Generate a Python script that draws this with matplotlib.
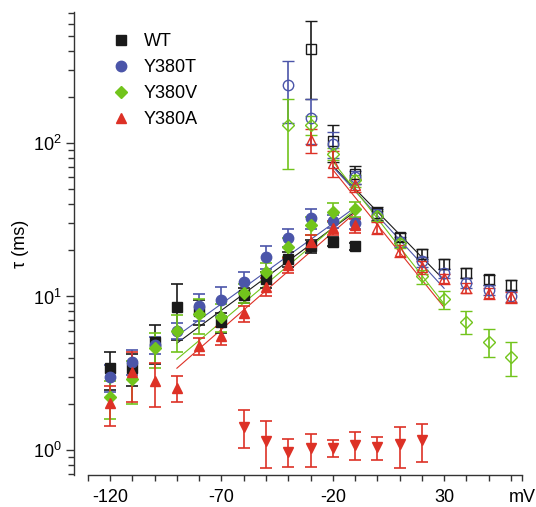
import matplotlib
matplotlib.use('Agg')
import matplotlib.pyplot as plt
from matplotlib.lines import Line2D

plt.rcParams['font.family'] = ['Liberation Sans', 'DejaVu Sans']
plt.rcParams['mathtext.fontset'] = 'custom'
plt.rcParams['mathtext.rm'] = 'Liberation Sans'
plt.rcParams['mathtext.it'] = 'Liberation Sans:italic'
plt.rcParams['mathtext.bf'] = 'Liberation Sans:bold'

# ---------------- data ----------------
series_names = ['WT', 'Y380T', 'Y380V', 'Y380A']

# activation (filled symbols)
v_fill = [-120, -110, -100, -90, -80, -70, -60, -50, -40, -30, -20, -10]
wt_fill = [3.42, 3.42, 5.08, 8.6, 8.0, 6.8, 10.2, 12.9, 17.5, 21.3, 22.8, 21.2]
wt_fill_err = [0.95, 0.8, 1.45, 3.4, 1.5, 1.0, 1.2, 1.5, 2.0, 2.0, 1.5, 1.2]
t_fill = [2.98, 3.76, 4.85, 6.0, 8.66, 9.5, 12.5, 18.2, 24.2, 32.3, 31.0, 30.0]
t_fill_err = [0.6, 0.7, 0.6, 0.75, 1.7, 2.0, 2.0, 3.1, 3.2, 4.7, 3.0, 2.5]
vv_fill = [2.2, 2.9, 4.6, 5.96, 7.7, 7.4, 10.6, 14.5, 21.0, 29.0, 35.5, 37.0]
vv_fill_err = [0.6, 0.92, 1.2, 1.6, 2.0, 1.5, 1.5, 2.0, 3.0, 4.0, 5.0, 4.0]
a_fill = [2.03, 3.2, 2.8, 2.55, 4.76, 5.55, 7.77, 11.6, 16.0, 22.5, 28.0, 29.0]
a_fill_err = [0.6, 1.15, 0.9, 0.5, 0.6, 0.75, 0.9, 1.5, 1.8, 2.5, 3.0, 3.0]

# deactivation (open symbols)
v_open_wt = [-30, -20, -10, 0, 10, 20, 30, 40, 50, 60]
wt_open = [408, 103.5, 62.5, 34.8, 24.5, 18.9, 16.3, 14.2, 12.9, 11.9]
wt_open_err = [215, 28, 8.3, 3.3, 1.6, 1.4, 1.2, 1.1, 1.0, 0.9]
v_open_t = [-40, -30, -20, -10, 0, 10, 20, 30, 40, 50, 60]
t_open = [239, 145, 99, 60, 34.0, 22.7, 16.9, 14.2, 12.3, 11.0, 10.0]
t_open_err = [105, 47, 19, 6, 3.0, 1.8, 1.3, 1.0, 0.9, 0.8, 0.8]
v_open_v = [-40, -30, -20, -10, 0, 10, 20, 30, 40, 50, 60]
vv_open = [131, 131, 85, 57, 33.5, 22.2, 13.5, 9.58, 6.85, 5.08, 4.02]
vv_open_err = [63, 19, 8, 5, 2.5, 1.5, 1.4, 1.3, 1.15, 1.05, 1.0]
v_open_a = [-30, -20, -10, 0, 10, 20, 30, 40, 50, 60]
a_open = [104.6, 74, 53, 28.1, 19.9, 15.5, 13.1, 11.4, 10.5, 9.86]
a_open_err = [19, 14, 5, 2.6, 1.9, 1.4, 1.0, 0.9, 0.8, 0.8]

# Y380A fast component (inverted triangles)
v_fast = [-60, -50, -40, -30, -20, -10, 0, 10, 20]
a_fast = [1.42, 1.15, 0.975, 1.03, 1.03, 1.08, 1.04, 1.09, 1.16]
a_fast_err = [0.39, 0.39, 0.2, 0.25, 0.13, 0.22, 0.18, 0.33, 0.32]

# exponential fits (straight lines on log axis)
fit_rise_v = [-90, -10]
wt_rise = [4.96, 35.7]
t_rise = [5.53, 38.0]
vv_rise = [3.9, 37.0]
a_rise = [3.41, 35.0]
fit_fall_v = [-20, 30]
wt_fall = [70.8, 12.8]
t_fall = [70.0, 11.3]
vv_fall = [75.9, 8.94]
a_fall = [67.0, 8.5]

x_ticks = [-130, -120, -110, -100, -90, -80, -70, -60, -50, -40, -30, -20,
           -10, 0, 10, 20, 30, 40, 50, 60, 65]
x_labels = {-120: '-120', -70: '-70', -20: '-20', 30: '30', 65: 'mV'}

# ---------------- style ----------------
colors = ['#1a1a1a', '#4b55a9', '#72c41c', '#dd3126']
markers = ['s', 'o', 'D', '^']
msizes = [7, 7.5, 6.2, 7.5]
fs = 13

fig = plt.figure(figsize=(5.36, 5.07), dpi=100)
ax = fig.add_axes([0.1381, 0.0631, 0.8371, 0.9132])
ax.set_yscale('log')
ax.set_xlim(-136.2, 65.3)
ax.set_ylim(0.687, 713)

fill_sets = [(wt_fill, wt_fill_err), (t_fill, t_fill_err),
             (vv_fill, vv_fill_err), (a_fill, a_fill_err)]
open_sets = [(v_open_wt, wt_open, wt_open_err), (v_open_t, t_open, t_open_err),
             (v_open_v, vv_open, vv_open_err), (v_open_a, a_open, a_open_err)]
rise_sets = [wt_rise, t_rise, vv_rise, a_rise]
fall_sets = [wt_fall, t_fall, vv_fall, a_fall]

eb_kw = dict(linestyle='none', elinewidth=1.2, capsize=4, capthick=1.2)

for i in range(4):
    c = colors[i]
    ax.plot(fit_rise_v, rise_sets[i], color=c, lw=0.8, zorder=2)
    ax.plot(fit_fall_v, fall_sets[i], color=c, lw=0.8, zorder=2)

for i in range(4):
    c = colors[i]
    y, e = fill_sets[i]
    ax.errorbar(v_fill, y, yerr=e, marker=markers[i], ms=msizes[i], color=c,
                mfc=c, mec=c, ecolor=c, zorder=3, **eb_kw)
    xv, y, e = open_sets[i]
    ax.errorbar(xv, y, yerr=e, marker=markers[i], ms=msizes[i], color=c,
                mfc='none', mec=c, mew=1.0, ecolor=c, zorder=3, **eb_kw)

ax.errorbar(v_fast, a_fast, yerr=a_fast_err, marker='v', ms=7.5, color=colors[3],
            mfc=colors[3], mec=colors[3], ecolor=colors[3], zorder=3, **eb_kw)

# axes styling
for s in ['top', 'right']:
    ax.spines[s].set_visible(False)
ax.spines['bottom'].set_bounds(-130, 65)
for s in ['left', 'bottom']:
    ax.spines[s].set_linewidth(1.0)
    ax.spines[s].set_color('#333333')

ax.set_xticks(x_ticks)
ax.set_xticklabels([x_labels.get(t, '') for t in x_ticks])
ax.tick_params(axis='x', which='both', direction='out', length=4, width=1.0,
               color='#333333', labelsize=fs, pad=6)
ax.tick_params(axis='y', which='major', direction='out', length=6, width=1.0,
               color='#333333', labelsize=fs, pad=3)
ax.tick_params(axis='y', which='minor', direction='out', length=4, width=1.0,
               color='#333333')
ax.set_ylabel('τ (ms)', fontsize=fs, labelpad=3)

handles = [Line2D([], [], linestyle='none', marker=markers[i], ms=msizes[i],
                  color=colors[i]) for i in range(4)]
ax.legend(handles, series_names, loc='upper left',
          bbox_to_anchor=(112 / 536, 1 - 33 / 507), bbox_transform=fig.transFigure,
          frameon=False, fontsize=fs, handlelength=1.0, handletextpad=0.75,
          labelspacing=0.5, borderpad=0, borderaxespad=0)

fig.savefig('out.png', dpi=100)
